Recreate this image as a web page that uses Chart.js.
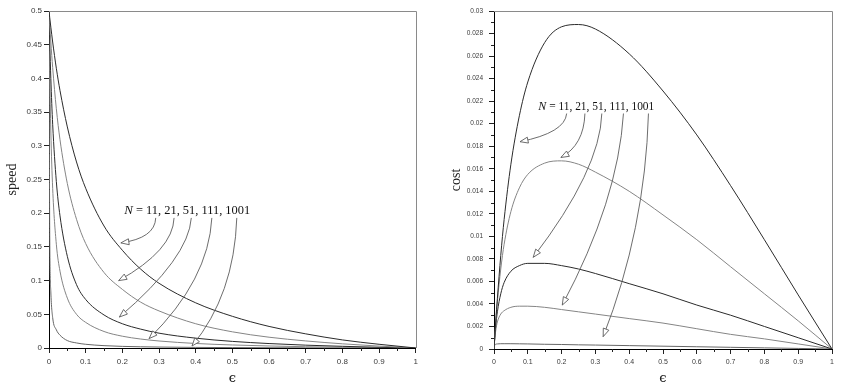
<!DOCTYPE html>
<html>
<head>
<meta charset="utf-8">
<script src="https://cdn.jsdelivr.net/npm/chart.js@4.4.1/dist/chart.umd.min.js"></script>
<style>
  html, body { margin: 0; padding: 0; background: #fff; }
  #wrap { position: relative; width: 844px; height: 386px; }
  .panel { position: absolute; top: 0; width: 422px; height: 386px; }
</style>
</head>
<body>
<div id="wrap">
  <div class="panel" style="left:0"><canvas id="speedChart"></canvas></div>
  <div class="panel" style="left:422px"><canvas id="costChart"></canvas></div>
</div>
<script>
// Data
const eps = [0, 0.002, 0.005, 0.01, 0.02, 0.03, 0.05, 0.075, 0.1, 0.15, 0.2, 0.25, 0.3, 0.4, 0.5, 0.6, 0.7, 0.8, 0.9, 1];
const nValues = [11, 21, 51, 111, 1001];

const speedN11 = [0.5, 0.49, 0.476, 0.454, 0.415, 0.382, 0.328, 0.276, 0.237, 0.181, 0.145, 0.117, 0.096, 0.067, 0.047, 0.032, 0.021, 0.012, 0.0055, 0];
const speedN21 = [0.5, 0.481, 0.454, 0.416, 0.355, 0.309, 0.244, 0.191, 0.155, 0.112, 0.087, 0.068, 0.055, 0.036, 0.024, 0.016, 0.0105, 0.0062, 0.0028, 0];
const speedN51 = [0.5, 0.454, 0.4, 0.332, 0.247, 0.196, 0.136, 0.094, 0.072, 0.049, 0.036, 0.028, 0.022, 0.0146, 0.0098, 0.0066, 0.0042, 0.0025, 0.0011, 0];
const speedN111 = [0.5, 0.41, 0.322, 0.237, 0.154, 0.114, 0.074, 0.05, 0.038, 0.0245, 0.0175, 0.0133, 0.0104, 0.0067, 0.0045, 0.003, 0.0019, 0.0011, 0.0005, 0];
const speedN1001 = [0.5, 0.166, 0.083, 0.045, 0.027, 0.019, 0.011, 0.0075, 0.0055, 0.0035, 0.0024, 0.0018, 0.0014, 0.0009, 0.0006, 0.0004, 0.00025, 0.00015, 0.00007, 0];

const costN11 = [0, 0.00098, 0.0024, 0.0045, 0.0083, 0.0115, 0.0164, 0.0207, 0.0237, 0.0272, 0.0286, 0.0288, 0.0284, 0.0262, 0.0229, 0.019, 0.0145, 0.0097, 0.0048, 0];
const costN21 = [0, 0.00096, 0.0023, 0.0042, 0.0071, 0.0093, 0.0122, 0.0143, 0.0155, 0.0165, 0.0167, 0.0164, 0.0157, 0.014, 0.0119, 0.0097, 0.0073, 0.0049, 0.0025, 0];
const costN51 = [0, 0.0009, 0.002, 0.0033, 0.0049, 0.0059, 0.0069, 0.0074, 0.0076, 0.0076, 0.0074, 0.0071, 0.0067, 0.0058, 0.0049, 0.0039, 0.003, 0.002, 0.001, 0];
const costN111 = [0, 0.0008, 0.0016, 0.0024, 0.0031, 0.0034, 0.0037, 0.0038, 0.0038, 0.0037, 0.0035, 0.0033, 0.0031, 0.0027, 0.0023, 0.0018, 0.0013, 0.0009, 0.00045, 0];
const costN1001 = [0, 0.00033, 0.00042, 0.00045, 0.00047, 0.00047, 0.00047, 0.00046, 0.00045, 0.00042, 0.0004, 0.00037, 0.00035, 0.0003, 0.00025, 0.0002, 0.00015, 0.0001, 0.00005, 0];

const CORES = {
    dark: '#2b2b2b',
    grey: '#858585',
    mid: '#666',
    tick: '#222',
    label: '#3a3a3a',
    frame: '#8a8a8a',
    arrow: '#5c5c5c',
};
const LINE_COLORS = [CORES.dark, CORES.grey, CORES.dark, CORES.grey, CORES.mid];

const fmt = (v) => String(parseFloat(Number(v).toFixed(4)));

/**
 * Frame on top/right, minor ticks, and the "N = ..." leader arrows.
 */
const decorPlugin = {
    id: 'decor',
    afterDatasetsDraw(chart, args, opts) {
        const { ctx, chartArea: area, scales: { x, y } } = chart;
        const px = (p) => [x.getPixelForValue(p[0]), y.getPixelForValue(p[1])];
        ctx.save();

        // top and right frame
        ctx.strokeStyle = CORES.frame;
        ctx.lineWidth = 1;
        ctx.beginPath();
        ctx.moveTo(area.left, Math.round(area.top) + 0.5);
        ctx.lineTo(Math.round(area.right) + 0.5, Math.round(area.top) + 0.5);
        ctx.lineTo(Math.round(area.right) + 0.5, area.bottom);
        ctx.stroke();

        // minor ticks
        ctx.strokeStyle = CORES.tick;
        ctx.beginPath();
        (opts.minorX || []).forEach(v => {
            const xx = Math.round(x.getPixelForValue(v)) + 0.5;
            ctx.moveTo(xx, area.bottom);
            ctx.lineTo(xx, area.bottom + 3);
        });
        (opts.minorY || []).forEach(v => {
            const yy = Math.round(y.getPixelForValue(v)) + 0.5;
            ctx.moveTo(area.left, yy);
            ctx.lineTo(area.left - 3, yy);
        });
        ctx.stroke();

        // label text
        const [tx, ty] = px(opts.textAt);
        ctx.fillStyle = '#111';
        ctx.textBaseline = 'alphabetic';
        ctx.textAlign = 'left';
        ctx.font = `italic ${opts.fontSize}px "Liberation Serif", serif`;
        ctx.fillText('N', tx, ty);
        const nW = ctx.measureText('N').width;
        ctx.font = `${opts.fontSize}px "Liberation Serif", serif`;
        ctx.fillText(' = ' + nValues.join(', '), tx + nW, ty, opts.textWidth - nW);

        // leader arrows
        ctx.strokeStyle = CORES.arrow;
        ctx.lineWidth = 0.9;
        opts.arrows.forEach(a => {
            const [sx, sy] = px(a.from);
            const [cx, cy] = px(a.ctrl);
            const [ex, ey] = px(a.to);
            ctx.beginPath();
            ctx.moveTo(sx, sy);
            ctx.quadraticCurveTo(cx, cy, ex, ey);
            ctx.stroke();

            const ang = Math.atan2(ey - cy, ex - cx);
            const len = 8, half = 3;
            const bx = ex - len * Math.cos(ang), by = ey - len * Math.sin(ang);
            ctx.beginPath();
            ctx.moveTo(ex, ey);
            ctx.lineTo(bx + half * Math.sin(ang), by - half * Math.cos(ang));
            ctx.lineTo(bx - half * Math.sin(ang), by + half * Math.cos(ang));
            ctx.closePath();
            ctx.fillStyle = '#fff';
            ctx.fill();
            ctx.stroke();
        });
        ctx.restore();
    },
};

function buildDatasets(series) {
    return series.map((vals, i) => ({
        label: 'N=' + nValues[i],
        data: eps.map((e, k) => ({ x: e, y: vals[k] })),
        borderColor: LINE_COLORS[i],
        borderWidth: 1,
        pointRadius: 0,
        fill: false,
        cubicInterpolationMode: 'monotone',
    }));
}

function xAxis(fontSize, height) {
    return {
        type: 'linear',
        min: 0,
        max: 1,
        ticks: { stepSize: 0.1, autoSkip: false, maxRotation: 0, padding: 4, color: CORES.label,
                 font: { family: '"Liberation Sans", sans-serif', size: fontSize }, callback: fmt },
        grid: { drawOnChartArea: false, tickLength: 5, tickColor: CORES.tick },
        border: { color: '#000' },
        title: { display: true, text: 'ϵ', color: '#222', padding: 0,
                 font: { family: '"DejaVu Serif", serif', size: 13 } },
        afterFit: (s) => { s.height = height; },
    };
}

function yAxis(max, step, fontSize, width, title, titlePad, labelPad) {
    return {
        type: 'linear',
        min: 0,
        max: max,
        ticks: { stepSize: step, autoSkip: false, padding: labelPad, color: CORES.label,
                 font: { family: '"Liberation Sans", sans-serif', size: fontSize }, callback: fmt },
        grid: { drawOnChartArea: false, tickLength: 5, tickColor: CORES.tick },
        border: { color: '#000' },
        title: { display: true, text: title, color: '#222', padding: { top: titlePad },
                 font: { family: '"Liberation Serif", serif', size: 14 } },
        afterFit: (s) => { s.width = width; },
    };
}

function criarGrafico(canvasId, series, xScale, yScale, padding, decor) {
    const ctx = document.getElementById(canvasId);
    return new Chart(ctx, {
        type: 'line',
        data: { datasets: buildDatasets(series) },
        options: {
            responsive: true,
            maintainAspectRatio: false,
            animation: false,
            layout: { padding },
            plugins: { legend: { display: false }, tooltip: { enabled: false }, decor },
            scales: { x: xScale, y: yScale },
        },
        plugins: [decorPlugin],
    });
}

const minorX = [0.05, 0.15, 0.25, 0.35, 0.45, 0.55, 0.65, 0.75, 0.85, 0.95];
const minorYCost = [0.001, 0.003, 0.005, 0.007, 0.009, 0.011, 0.013, 0.015, 0.017, 0.019, 0.021, 0.023, 0.025, 0.027, 0.029];

criarGrafico('speedChart',
    [speedN11, speedN21, speedN51, speedN111, speedN1001],
    xAxis(8, 38),
    yAxis(0.5, 0.05, 8, 49, 'speed', 4, 2),
    { top: 11, right: 3, left: 0, bottom: 0 },
    {
        minorX,
        textAt: [0.205, 0.199],
        textWidth: 126,
        fontSize: 13,
        arrows: [
            { from: [0.291, 0.193], ctrl: [0.289, 0.163], to: [0.196, 0.156] },
            { from: [0.341, 0.193], ctrl: [0.338, 0.145], to: [0.19, 0.1] },
            { from: [0.388, 0.193], ctrl: [0.381, 0.134], to: [0.192, 0.046] },
            { from: [0.444, 0.193], ctrl: [0.435, 0.101], to: [0.273, 0.014] },
            { from: [0.512, 0.193], ctrl: [0.505, 0.079], to: [0.39, 0.003] },
        ],
    });

criarGrafico('costChart',
    [costN11, costN21, costN51, costN111, costN1001],
    xAxis(7, 37),
    yAxis(0.03, 0.002, 6.5, 72, 'cost', 26, 6),
    { top: 11, right: 12, left: 0, bottom: 0 },
    {
        minorX,
        minorY: minorYCost,
        textAt: [0.131, 0.0212],
        textWidth: 116,
        fontSize: 12,
        arrows: [
            { from: [0.215, 0.0209], ctrl: [0.21, 0.0192], to: [0.077, 0.0184] },
            { from: [0.269, 0.0209], ctrl: [0.266, 0.0181], to: [0.198, 0.017] },
            { from: [0.319, 0.0209], ctrl: [0.314, 0.0159], to: [0.116, 0.00814] },
            { from: [0.383, 0.0209], ctrl: [0.367, 0.0132], to: [0.202, 0.0039] },
            { from: [0.457, 0.0209], ctrl: [0.447, 0.0106], to: [0.323, 0.0011] },
        ],
    });
</script>
</body>
</html>
